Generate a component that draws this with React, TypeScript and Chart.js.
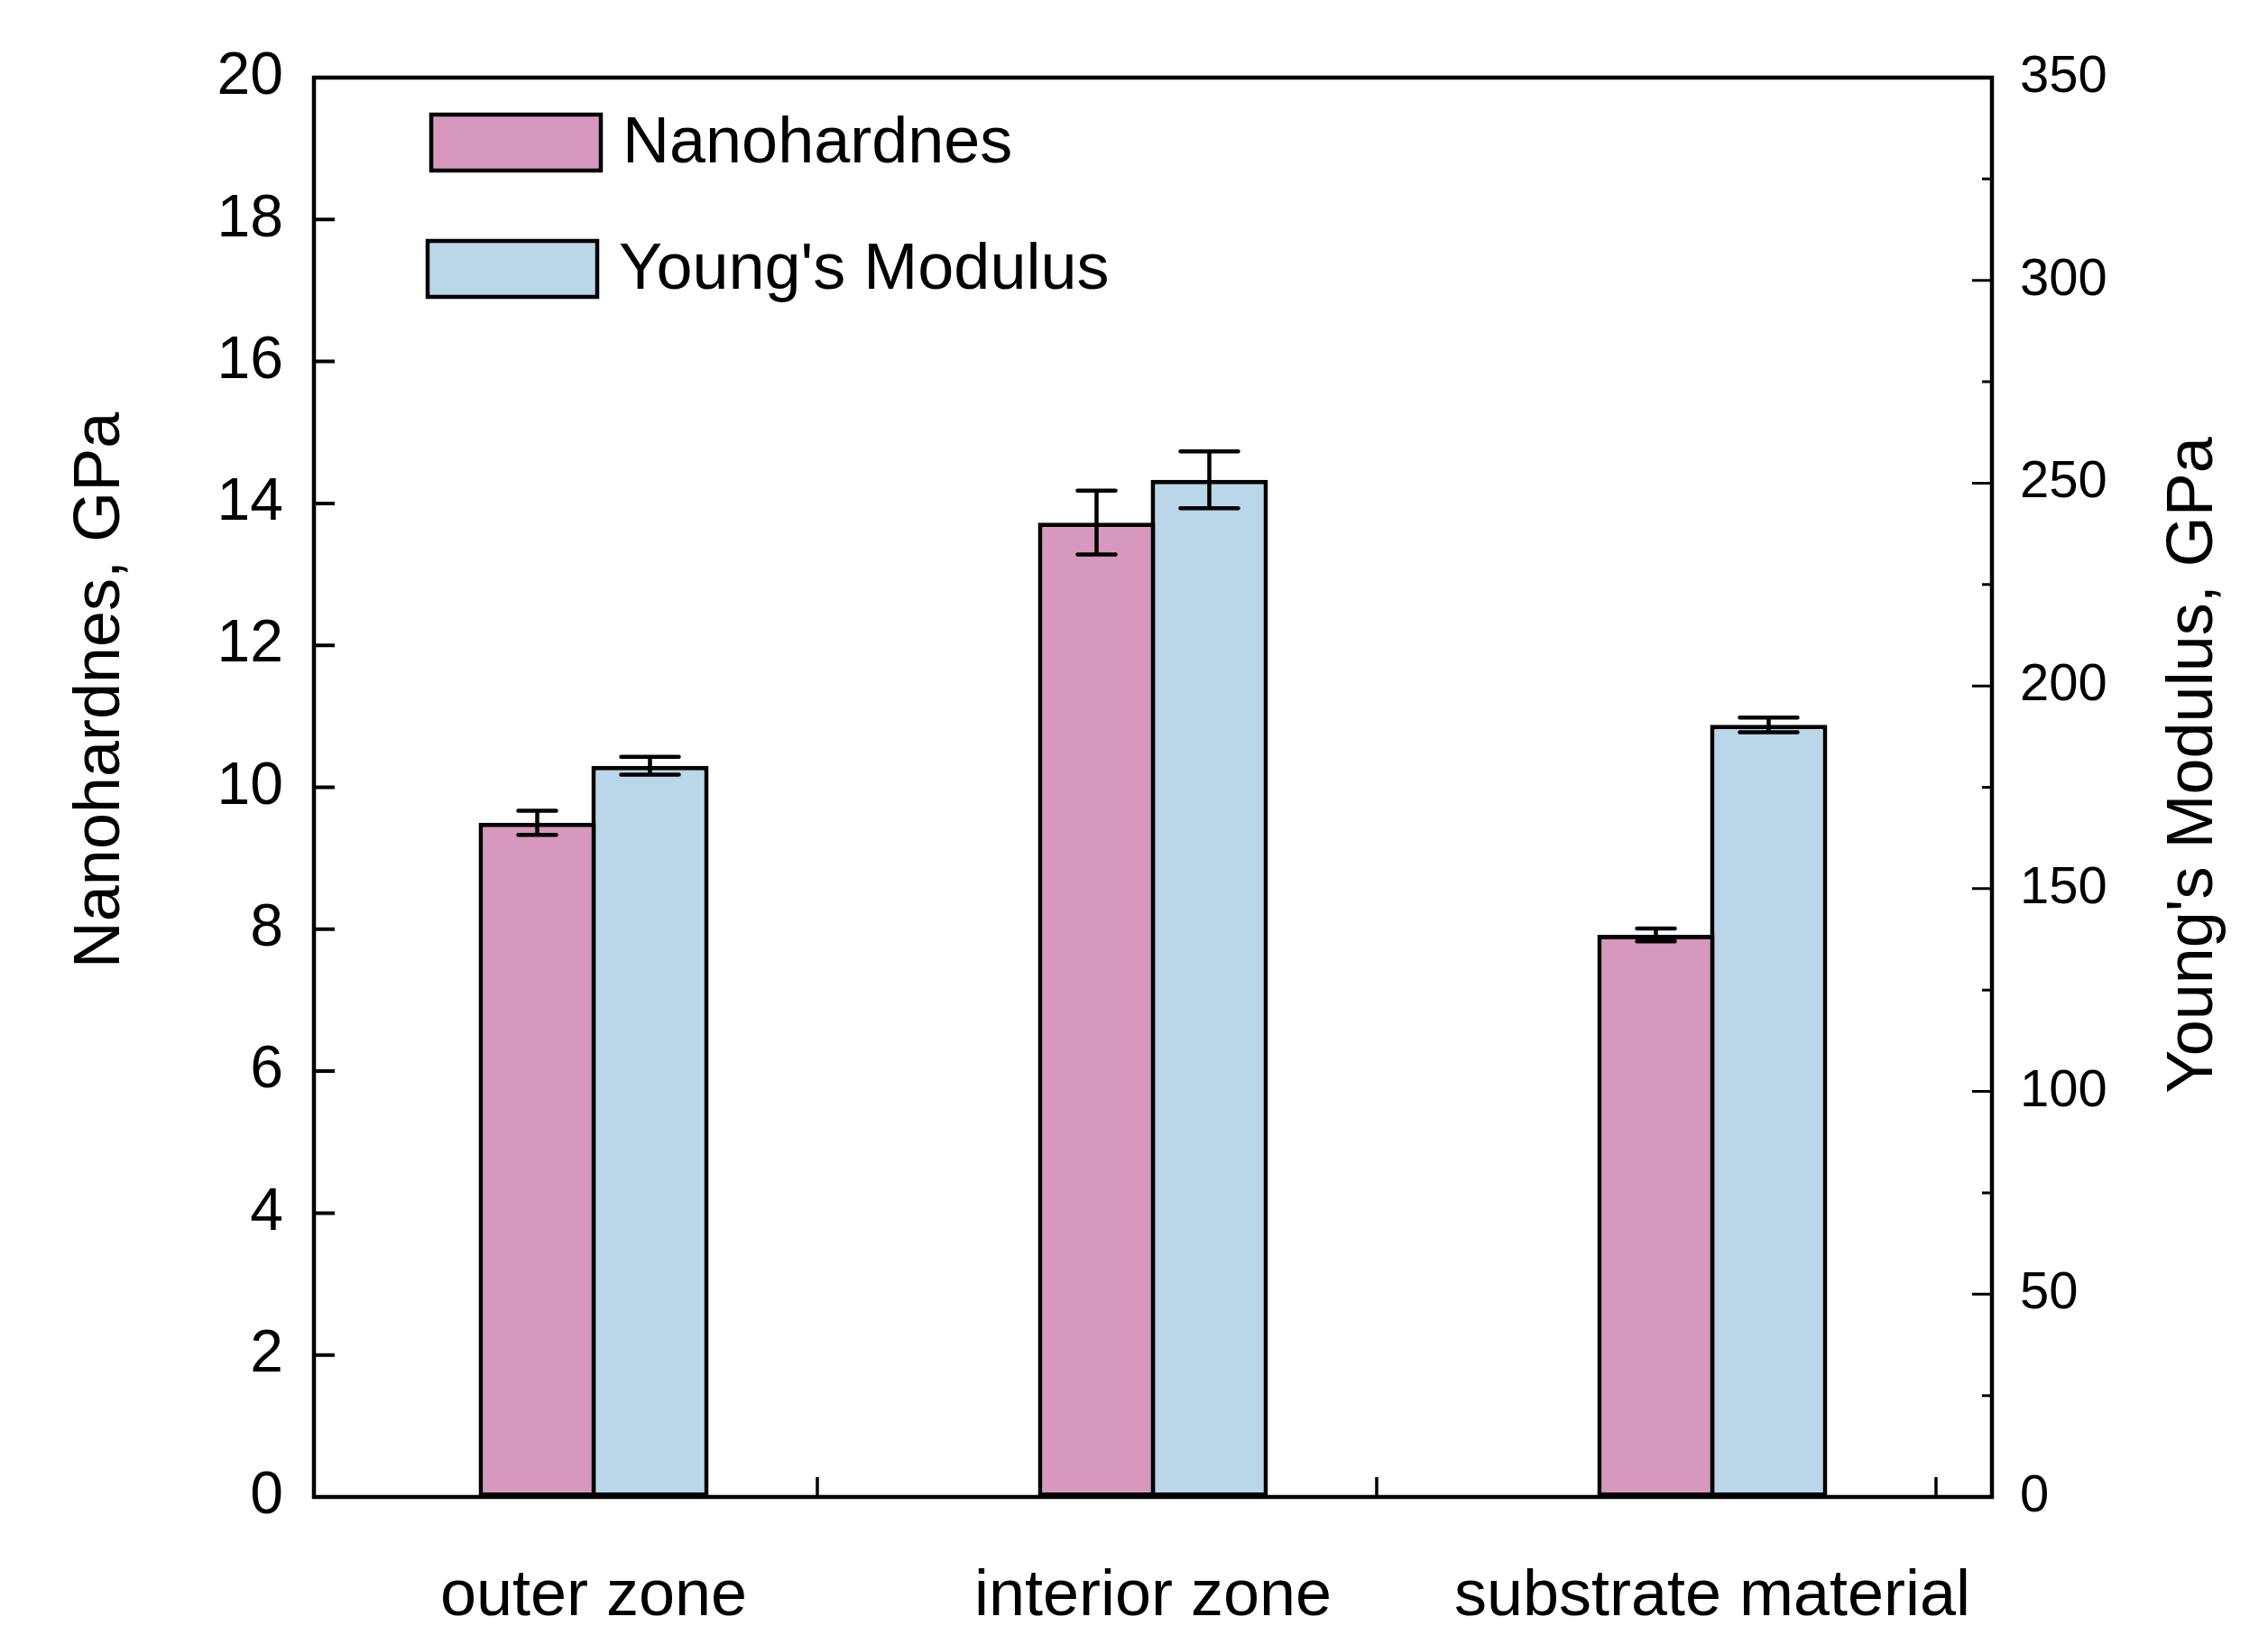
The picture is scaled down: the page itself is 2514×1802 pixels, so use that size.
import React, { useEffect, useRef } from 'react';
import { Chart, registerables } from 'chart.js';

Chart.register(...registerables);

// ---- data ----
const categories = ['outer zone', 'interior zone', 'substrate material'];
const nanohardness = [9.5, 13.73, 7.92];
const nanohardnessErr = [0.17, 0.45, 0.09];
const youngsModulus = [180.3, 250.8, 190.4];
const youngsModulusErr = [2.2, 7.0, 1.8];
const seriesLabels = ['Nanohardnes', "Young's Modulus"];
const leftAxisRange = [0, 20, 2];
const rightAxisRange = [0, 350, 50, 25];
const xTickPositions = [0.4, 1.4, 2.4];
const leftTitle = 'Nanohardnes, GPa';
const rightTitle = "Young's Modulus, GPa";

const FONT = '"Liberation Sans", Arial, Helvetica, sans-serif';
const PINK = '#D698BC';
const BLUE = '#BAD6E8';
const BLACK = '#000000';

const decorPlugin = {
  id: 'decor',
  afterDatasetsDraw(chart: any) {
    const ctx = chart.ctx as CanvasRenderingContext2D;
    const { left, right, top, bottom } = chart.chartArea;
    const yL = chart.scales.y;
    const yR = chart.scales.y1;
    const xS = chart.scales.x;
    const errs = [nanohardnessErr, youngsModulusErr];
    const capW = [42, 64];
    ctx.save();
    ctx.strokeStyle = BLACK;
    // error bars
    chart.data.datasets.forEach((ds: any, di: number) => {
      const meta = chart.getDatasetMeta(di);
      const scale = chart.scales[meta.yAxisID];
      meta.data.forEach((bar: any, i: number) => {
        const v = ds.data[i];
        const e = errs[di][i];
        const yt = scale.getPixelForValue(v + e);
        const yb = scale.getPixelForValue(v - e);
        ctx.lineWidth = 4.5;
        ctx.lineCap = 'round';
        ctx.beginPath();
        ctx.moveTo(bar.x, yt);
        ctx.lineTo(bar.x, yb);
        ctx.moveTo(bar.x - capW[di] / 2, yt);
        ctx.lineTo(bar.x + capW[di] / 2, yt);
        ctx.moveTo(bar.x - capW[di] / 2, yb);
        ctx.lineTo(bar.x + capW[di] / 2, yb);
        ctx.stroke();
      });
    });
    // frame
    ctx.lineCap = 'square';
    ctx.lineWidth = 4.5;
    ctx.strokeRect(left, top, right - left, bottom - top);
    // left ticks
    ctx.lineCap = 'butt';
    ctx.lineWidth = 4;
    ctx.beginPath();
    for (let v = leftAxisRange[0]; v <= leftAxisRange[1]; v += leftAxisRange[2]) {
      const y = yL.getPixelForValue(v);
      ctx.moveTo(left, y);
      ctx.lineTo(left + 23, y);
    }
    ctx.stroke();
    // right ticks
    ctx.lineWidth = 3;
    ctx.beginPath();
    for (let v = rightAxisRange[0]; v <= rightAxisRange[1]; v += rightAxisRange[3]) {
      const y = yR.getPixelForValue(v);
      const major = v % rightAxisRange[2] === 0;
      ctx.moveTo(right, y);
      ctx.lineTo(right - (major ? 22 : 11), y);
    }
    ctx.stroke();
    // bottom ticks
    ctx.lineWidth = 3.5;
    ctx.beginPath();
    xTickPositions.forEach((p) => {
      const x = xS.getPixelForValue(p);
      ctx.moveTo(x, bottom);
      ctx.lineTo(x, bottom - 22);
    });
    ctx.stroke();
    ctx.restore();
  },
  afterDraw(chart: any) {
    const ctx = chart.ctx as CanvasRenderingContext2D;
    ctx.save();
    // legend
    const colors = [PINK, BLUE];
    const boxes = [
      [478, 127],
      [474, 267],
    ];
    ctx.font = `72px ${FONT}`;
    ctx.textBaseline = 'middle';
    ctx.textAlign = 'left';
    chart.data.datasets.forEach((ds: any, i: number) => {
      const [bx, by] = boxes[i];
      ctx.fillStyle = colors[i];
      ctx.fillRect(bx, by, 188, 62);
      ctx.strokeStyle = BLACK;
      ctx.lineWidth = 4.5;
      ctx.strokeRect(bx, by, 188, 62);
      ctx.fillStyle = BLACK;
      ctx.fillText(ds.label, bx + 212, by + 33);
    });
    // axis titles
    ctx.font = `72px ${FONT}`;
    ctx.textAlign = 'center';
    ctx.textBaseline = 'middle';
    ctx.fillStyle = BLACK;
    ctx.save();
    ctx.translate(112, 765);
    ctx.rotate(-Math.PI / 2);
    ctx.fillText(leftTitle, 0, 0);
    ctx.restore();
    ctx.save();
    ctx.translate(2432, 848);
    ctx.rotate(-Math.PI / 2);
    ctx.fillText(rightTitle, 0, 0);
    ctx.restore();
    ctx.restore();
  },
};

export default function App() {
  const ref = useRef<HTMLCanvasElement | null>(null);
  useEffect(() => {
    if (!ref.current) return;
    const chart = new Chart(ref.current, {
      type: 'bar',
      data: {
        labels: categories,
        datasets: [
          {
            label: seriesLabels[0],
            data: nanohardness,
            yAxisID: 'y',
            backgroundColor: PINK,
            borderColor: BLACK,
            borderWidth: 5,
            borderSkipped: false,
            categoryPercentage: 0.4032,
            barPercentage: 1.04,
          },
          {
            label: seriesLabels[1],
            data: youngsModulus,
            yAxisID: 'y1',
            backgroundColor: BLUE,
            borderColor: BLACK,
            borderWidth: 5,
            borderSkipped: false,
            categoryPercentage: 0.4032,
            barPercentage: 1.04,
          },
        ],
      },
      options: {
        animation: false,
        responsive: false,
        maintainAspectRatio: false,
        layout: { padding: { top: 86, left: 0, right: 0, bottom: 0 } },
        plugins: {
          legend: { display: false },
          tooltip: { enabled: false },
        },
        scales: {
          x: {
            offset: true,
            grid: { display: false },
            border: { display: false },
            ticks: {
              font: { family: FONT, size: 72 },
              color: BLACK,
              padding: 60,
              maxRotation: 0,
              autoSkip: false,
            },
            afterFit: (s: any) => {
              s.height = 143;
            },
          },
          y: {
            position: 'left',
            min: leftAxisRange[0],
            max: leftAxisRange[1],
            grid: { display: false },
            border: { display: false },
            ticks: {
              stepSize: leftAxisRange[2],
              font: { family: FONT, size: 66 },
              color: BLACK,
              padding: 26,
            },
            afterFit: (s: any) => {
              s.width = 348;
            },
          },
          y1: {
            position: 'right',
            min: rightAxisRange[0],
            max: rightAxisRange[1],
            grid: { display: false },
            border: { display: false },
            ticks: {
              stepSize: rightAxisRange[2],
              font: { family: FONT, size: 58 },
              color: BLACK,
              padding: 23,
            },
            afterFit: (s: any) => {
              s.width = 306;
            },
          },
        },
      } as any,
      plugins: [decorPlugin],
    });
    return () => chart.destroy();
  }, []);
  return (
    <div style={{ position: 'absolute', left: 0, top: 0, width: 2514, height: 1802, background: '#fff' }}>
      <canvas ref={ref} width={2514} height={1802} style={{ display: 'block' }} />
    </div>
  );
}
